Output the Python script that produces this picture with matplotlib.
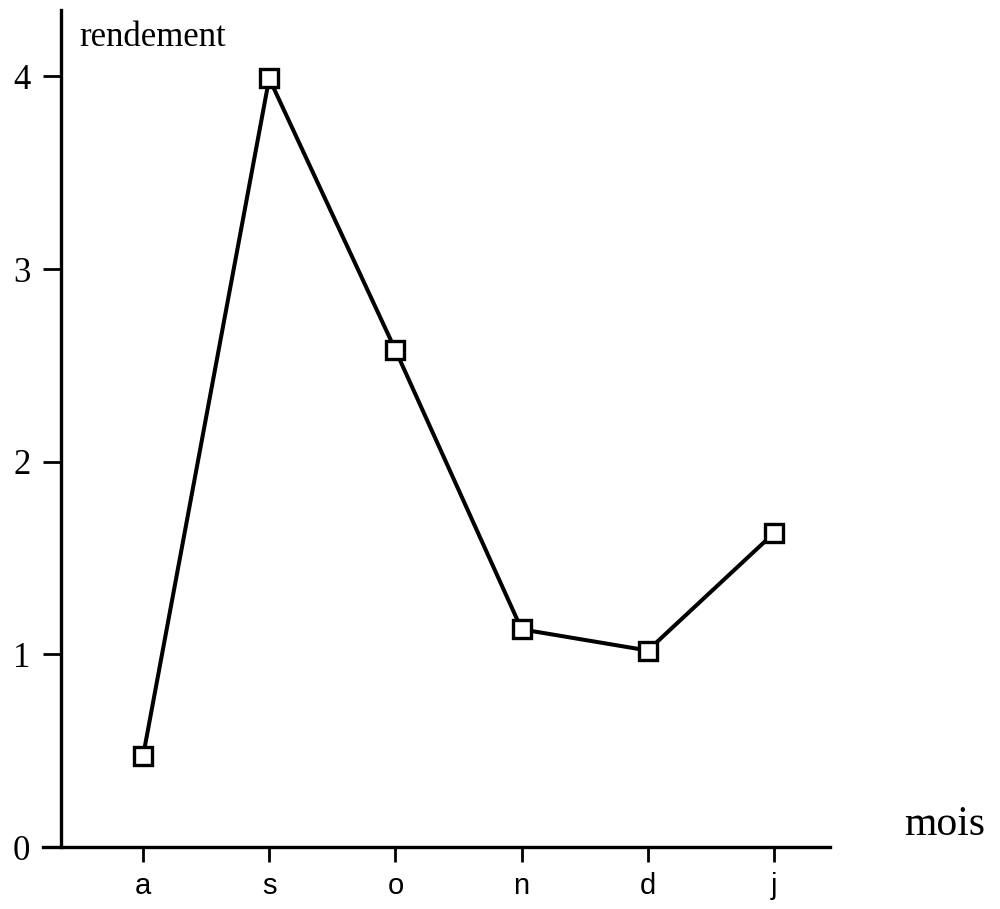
import matplotlib
matplotlib.use("Agg")
import matplotlib.pyplot as plt

months = ["a", "s", "o", "n", "d", "j"]
rendement = [0.47, 3.99, 2.58, 1.13, 1.02, 1.63]
yticks = [0, 1, 2, 3, 4]
ytick_labels = ["0", "1", "2", "3", "4"]

fig = plt.figure(figsize=(10, 9.09), dpi=100)
W, H = 1000, 909
left_px, right_px, top_px, bottom_px = 43, 830, 10, 847
ax = fig.add_axes([left_px / W, 1 - bottom_px / H, (right_px - left_px) / W, (bottom_px - top_px) / H])

x = list(range(len(months)))
ax.plot(x, rendement, color="black", lw=2.9, marker="s", markersize=13,
        markerfacecolor="white", markeredgecolor="black", markeredgewidth=2.4, zorder=3,
        clip_on=False)

# x scale: a at 143px, j at 774px
unit = (774 - 143) / 5
ax.set_xlim(-(143 - left_px) / unit, 5 + (right_px - 774) / unit)
ax.set_ylim(0, 4.345)

ax.spines["top"].set_visible(False)
ax.spines["right"].set_visible(False)
ax.spines["left"].set_position(("data", -(143 - 61) / unit))
ax.spines["left"].set_linewidth(2.4)
ax.spines["bottom"].set_linewidth(2.4)

ax.set_xticks(x)
ax.set_xticklabels(months, fontfamily="Liberation Sans", fontsize=21)
ax.set_yticks(yticks)
ax.set_yticklabels(ytick_labels, fontfamily="Liberation Serif", fontsize=25)
ax.tick_params(axis="x", direction="out", length=11, width=2, pad=7)
ax.tick_params(axis="y", direction="out", length=13, width=2, pad=9)

fig.text(79 / W, 1 - 38 / H, "rendement", fontfamily="Liberation Serif", fontsize=25,
         ha="left", va="center")
fig.text(904 / W, 1 - 825 / H, "mois", fontfamily="Liberation Serif", fontsize=30,
         ha="left", va="center")

fig.savefig("out.png", dpi=100, facecolor="white")
